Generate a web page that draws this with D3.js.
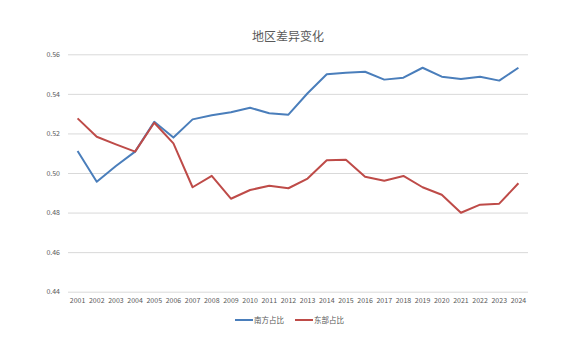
<!DOCTYPE html>
<html><head><meta charset="utf-8">
<script src="https://cdn.jsdelivr.net/npm/d3@7"></script>
<style>body{margin:0;background:#fff}svg{display:block}</style>
</head><body>
<script>
const years = ["2001","2002","2003","2004","2005","2006","2007","2008","2009","2010","2011","2012","2013","2014","2015","2016","2017","2018","2019","2020","2021","2022","2023","2024"];
const southShare = [0.5111,0.4956,0.5035,0.5108,0.5259,0.5179,0.5271,0.5292,0.5307,0.5330,0.5302,0.5295,0.5403,0.5499,0.5507,0.5512,0.5472,0.5482,0.5532,0.5487,0.5475,0.5487,0.5467,0.5532];
const eastShare = [0.5276,0.5183,0.5145,0.5108,0.5254,0.5150,0.4928,0.4986,0.4870,0.4914,0.4936,0.4923,0.4972,0.5064,0.5067,0.4981,0.4961,0.4985,0.4928,0.4890,0.4799,0.4840,0.4845,0.4948];
const yTicks = [0.44,0.46,0.48,0.50,0.52,0.54,0.56];
const seriesNames = ["南方占比","东部占比"];
const colors = ["#4A7EBB","#BE4B48"];

const W=586,H=339;
const svg=d3.select("body").append("svg").attr("width",W).attr("height",H);
const font="'Noto Sans CJK SC','Microsoft YaHei',sans-serif";
const x=d3.scaleBand().domain(years).range([68,528]);
const y=d3.scaleLinear().domain([0.44,0.56]).range([291.7,54.3]);

svg.append("text").attr("x",288).attr("y",41).attr("text-anchor","middle")
  .attr("font-family",font).attr("font-size",12).attr("fill","#595959").text("地区差异变化");

const yAxis=d3.axisLeft(y).tickValues(yTicks).tickFormat(d3.format(".2f")).tickSize(-(528-68)).tickPadding(8);
const gy=svg.append("g").attr("transform","translate(68,0)").call(yAxis);
gy.select(".domain").remove();
gy.selectAll(".tick line").attr("stroke","#D9D9D9").attr("stroke-width",1);
gy.selectAll(".tick text").attr("font-family",font).attr("font-size",7).attr("fill","#595959");

const xAxis=d3.axisBottom(x).tickSize(0).tickPadding(6);
const gx=svg.append("g").attr("transform","translate(0,291.7)").call(xAxis);
gx.select(".domain").remove();
gx.selectAll(".tick text").attr("font-family",font).attr("font-size",7).attr("fill","#595959");

const line=d3.line().x((d,i)=>x(years[i])+x.bandwidth()/2).y(d=>y(d));
[southShare,eastShare].forEach((s,k)=>{
  svg.append("path").datum(s).attr("d",line).attr("fill","none").attr("stroke",colors[k]).attr("stroke-width",2).attr("stroke-linejoin","round");
});

const legX=[235,295];
seriesNames.forEach((n,k)=>{
  const g=svg.append("g").attr("transform",`translate(${legX[k]},320)`);
  g.append("line").attr("x1",0).attr("x2",18).attr("y1",0).attr("y2",0).attr("stroke",colors[k]).attr("stroke-width",2);
  g.append("text").attr("x",19).attr("y",2.5).attr("font-family",font).attr("font-size",7.5).attr("fill","#595959").text(n);
});
</script>
</body></html>
